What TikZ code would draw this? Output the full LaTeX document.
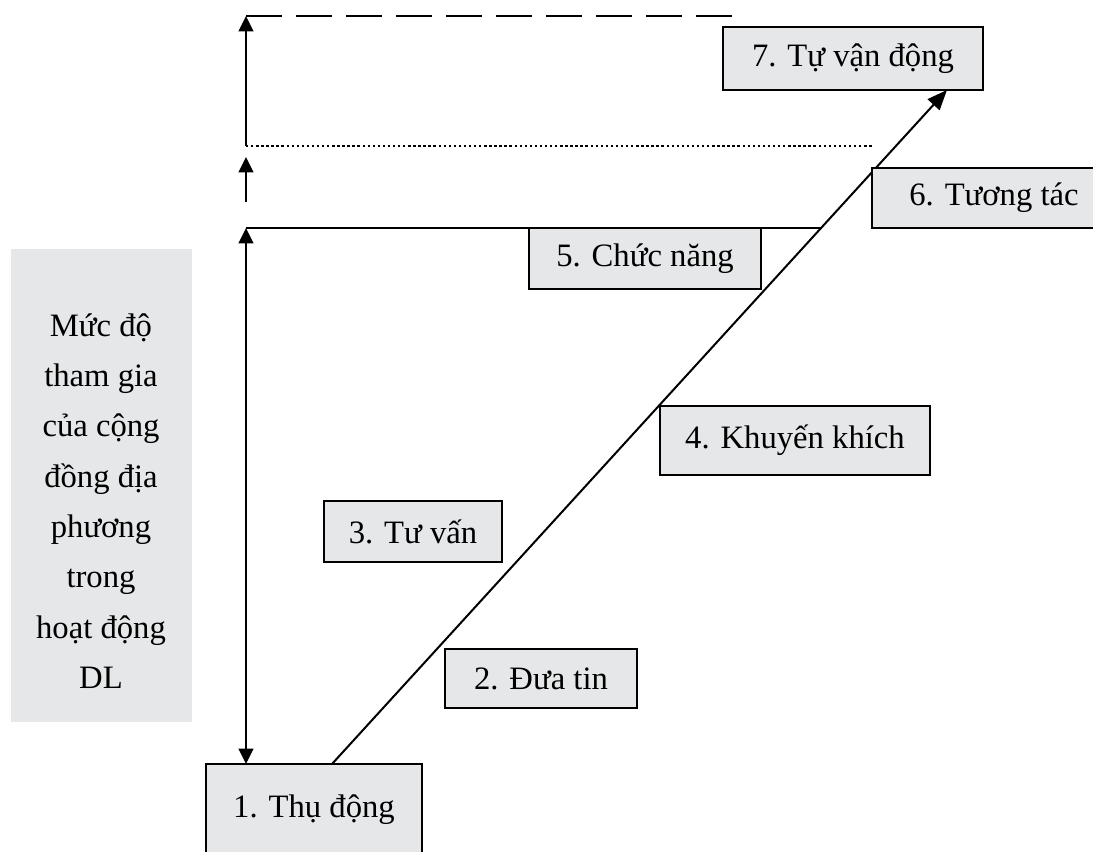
\documentclass[tikz,border=0pt]{standalone}
\usepackage{fontspec}
\setmainfont{Liberation Serif}
\usetikzlibrary{arrows.meta}
\definecolor{boxgray}{RGB}{230,231,232}
\begin{document}
\begin{tikzpicture}[x=0.75pt,y=-0.75pt,
  lbl/.style={draw=black, fill=boxgray, line width=1.1pt, inner sep=0pt,
    font=\fontsize{24.5}{29}\selectfont},
  ln/.style={line width=1.5pt},
  tip/.style={-{Triangle[length=11.5pt,width=11pt]}},
  bigtip/.style={-{Triangle[length=15pt,width=12pt]}},
  tips/.style={{Triangle[length=11.5pt,width=11pt]}-{Triangle[length=11.5pt,width=11pt]}},
]
\useasboundingbox (0,0) rectangle (1093,852);
% left grey panel
\node[fill=boxgray, inner sep=0pt, minimum width=135.75pt, minimum height=354.75pt] (panel) at (101.5,485.5) {};
\node[align=center, inner sep=0pt, font=\fontsize{24.5}{37.7}\selectfont] (paneltext) at (101,501)
  {Mức độ\\tham gia\\của cộng\\đồng địa\\phương\\trong\\hoạt động\\DL};

% coordinates
\coordinate (vTop) at (246,16);
\coordinate (dashEnd) at (733,16);
\coordinate (vDot) at (246,146);
\coordinate (dotEnd) at (872,146);
\coordinate (vB0) at (246,202);
\coordinate (vB1) at (246,157);
\coordinate (vSolid) at (246,228);
\coordinate (solidEnd) at (822,228);
\coordinate (vBot) at (246,764);
\coordinate (d0) at (332,764);
\coordinate (d1) at (947,90);

% lines
\draw[line width=2.2pt, dash pattern=on 27pt off 10.5pt] (vTop) -- (dashEnd);
\draw[line width=2pt, dash pattern=on 1.8pt off 2pt] (vDot) -- (dotEnd);
\draw[ln, tip] (vDot) -- (vTop);
\draw[ln, tip] (vB0) -- (vB1);
\draw[ln] (vSolid) -- (solidEnd);
\draw[ln, tips] (vSolid) -- (vBot);
\draw[ln, bigtip] (d0) -- (d1);

% boxes
\node[lbl, minimum width=195pt, minimum height=47.25pt] (b7) at (853,58.5) {7. Tự vận động};
\node[lbl, minimum width=183pt, minimum height=45pt] (b6) at (994,198) {6. Tương tác};
\node[lbl, minimum width=174pt, minimum height=45.75pt] (b5) at (645,258.5) {5. Chức năng};
\node[lbl, minimum width=202.5pt, minimum height=51.75pt] (b4) at (795,440.5) {4. Khuyến khích};
\node[lbl, minimum width=133.5pt, minimum height=45.75pt] (b3) at (413,531.5) {3. Tư vấn};
\node[lbl, minimum width=144pt, minimum height=44.25pt] (b2) at (541,678.5) {2. Đưa tin};
\node[lbl, minimum width=162pt, minimum height=69pt] (b1) at (314,810) {1. Thụ động};
\end{tikzpicture}
\end{document}
